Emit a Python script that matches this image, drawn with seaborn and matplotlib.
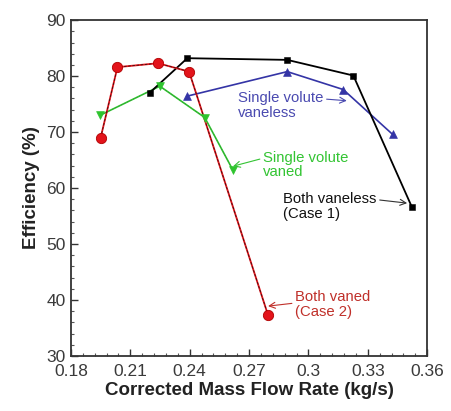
import matplotlib
matplotlib.use("Agg")
import matplotlib.pyplot as plt
import seaborn as sns
import pandas as pd
from matplotlib.ticker import MultipleLocator, FuncFormatter

# Efficiency vs corrected mass flow rate for four volute configurations
both_vaned_x = [0.1950, 0.2035, 0.2240, 0.2397, 0.2795]
both_vaned_y = [69.0, 81.6, 82.3, 80.8, 37.4]

both_vaneless_x = [0.2197, 0.2388, 0.2893, 0.3227, 0.3523]
both_vaneless_y = [77.0, 83.2, 82.9, 80.1, 56.6]

single_vaneless_x = [0.2385, 0.2893, 0.3176, 0.3425]
single_vaneless_y = [76.4, 80.8, 77.6, 69.6]

single_vaned_x = [0.1947, 0.2249, 0.2476, 0.2617]
single_vaned_y = [73.0, 78.2, 72.6, 63.3]

x_ticks = [0.18, 0.21, 0.24, 0.27, 0.30, 0.33, 0.36]
y_ticks = [30, 40, 50, 60, 70, 80, 90]

sns.set_style("ticks")
plt.rcParams["font.family"] = ["Liberation Sans", "DejaVu Sans"]

fig = plt.figure(figsize=(4.52, 4.11), dpi=100)
ax = fig.add_axes([0.157, 0.134, 0.788, 0.817])

RED = "#e3141b"
GREEN = "#2ec42e"
BLUE = "#3434a6"

df_bv = pd.DataFrame({"x": both_vaned_x, "y": both_vaned_y})
df_bl = pd.DataFrame({"x": both_vaneless_x, "y": both_vaneless_y})
df_sl = pd.DataFrame({"x": single_vaneless_x, "y": single_vaneless_y})
df_sv = pd.DataFrame({"x": single_vaned_x, "y": single_vaned_y})

# Single volute vaned (green, down triangles)
sns.lineplot(data=df_sv, x="x", y="y", ax=ax, sort=False, color=GREEN, lw=1.2)
sns.lineplot(data=df_sv, x="x", y="y", ax=ax, sort=False, color="#3a8a3a",
             lw=0.4, dashes=[(3, 3)], style=[0] * len(df_sv), legend=False)
sns.scatterplot(data=df_sv, x="x", y="y", ax=ax, marker="v", s=32,
                color=GREEN, edgecolor=GREEN, zorder=5)

# Single volute vaneless (blue, up triangles)
sns.lineplot(data=df_sl, x="x", y="y", ax=ax, sort=False, color=BLUE, lw=1.2)
sns.scatterplot(data=df_sl, x="x", y="y", ax=ax, marker="^", s=32,
                color=BLUE, edgecolor=BLUE, zorder=5)

# Both vaneless, case 1 (black squares)
sns.lineplot(data=df_bl, x="x", y="y", ax=ax, sort=False, color="black", lw=1.3)
sns.scatterplot(data=df_bl, x="x", y="y", ax=ax, marker="s", s=22,
                color="black", edgecolor="black", zorder=5)

# Both vaned, case 2 (red circles)
sns.lineplot(data=df_bv, x="x", y="y", ax=ax, sort=False, color=RED, lw=1.3)
sns.lineplot(data=df_bv, x="x", y="y", ax=ax, sort=False, color="#3a1010",
             lw=0.6, dashes=[(3, 2)], style=[0] * len(df_bv), legend=False)
sns.scatterplot(data=df_bv, x="x", y="y", ax=ax, marker="o", s=55,
                color=RED, edgecolor="#b00000", linewidth=0.6, zorder=6)

ax.set_xlim(0.18, 0.36)
ax.set_ylim(30, 90)
ax.set_xticks(x_ticks)
ax.set_yticks(y_ticks)
ax.xaxis.set_major_formatter(FuncFormatter(lambda v, p: f"{v:g}"))
ax.xaxis.set_minor_locator(MultipleLocator(0.006))
ax.yaxis.set_minor_locator(MultipleLocator(2))
ax.tick_params(axis="both", which="major", direction="in", length=5, width=1,
               labelsize=12.5, colors="#333333", labelcolor="#3a3a3a", pad=4)
ax.tick_params(axis="x", which="major", pad=6)
ax.tick_params(axis="both", which="minor", direction="in", length=2.5, width=0.8,
               colors="#555555")
for sp in ax.spines.values():
    sp.set_visible(True)
    sp.set_linewidth(1.3)
    sp.set_color("#333333")

ax.set_xlabel("Corrected Mass Flow Rate (kg/s)", fontsize=13.5, fontweight="bold",
              color="#222222", labelpad=2)
ax.set_ylabel("Efficiency (%)", fontsize=13.5, fontweight="bold",
              color="#222222", labelpad=4)

arrow = dict(arrowstyle="->", lw=0.8, shrinkA=0, shrinkB=0)
ax.annotate("Single volute\nvaneless", xy=(0.3194, 75.6), xytext=(0.2644, 74.7),
            fontsize=10.7, color="#4a4ab0", ha="left", va="center",
            linespacing=1.05,
            arrowprops=dict(arrow, color="#4a4ab0", relpos=(1.0, 0.74)))
ax.annotate("Single volute\nvaned", xy=(0.2619, 63.9), xytext=(0.2771, 64.1),
            fontsize=10.7, color="#33c433", ha="left", va="center",
            linespacing=1.05,
            arrowprops=dict(arrow, color="#33c433", relpos=(0.0, 0.74)))
ax.annotate("Both vaneless\n(Case 1)", xy=(0.3499, 57.3), xytext=(0.2872, 56.7),
            fontsize=10.7, color="#111111", ha="left", va="center",
            linespacing=1.05,
            arrowprops=dict(arrow, color="#333333", relpos=(1.0, 0.74)))
ax.annotate("Both vaned\n(Case 2)", xy=(0.2796, 38.9), xytext=(0.2933, 39.2),
            fontsize=10.7, color="#c0302a", ha="left", va="center",
            linespacing=1.05,
            arrowprops=dict(arrow, color="#c0302a", relpos=(0.0, 0.55)))

fig.savefig("out.png", dpi=100, facecolor="white")
